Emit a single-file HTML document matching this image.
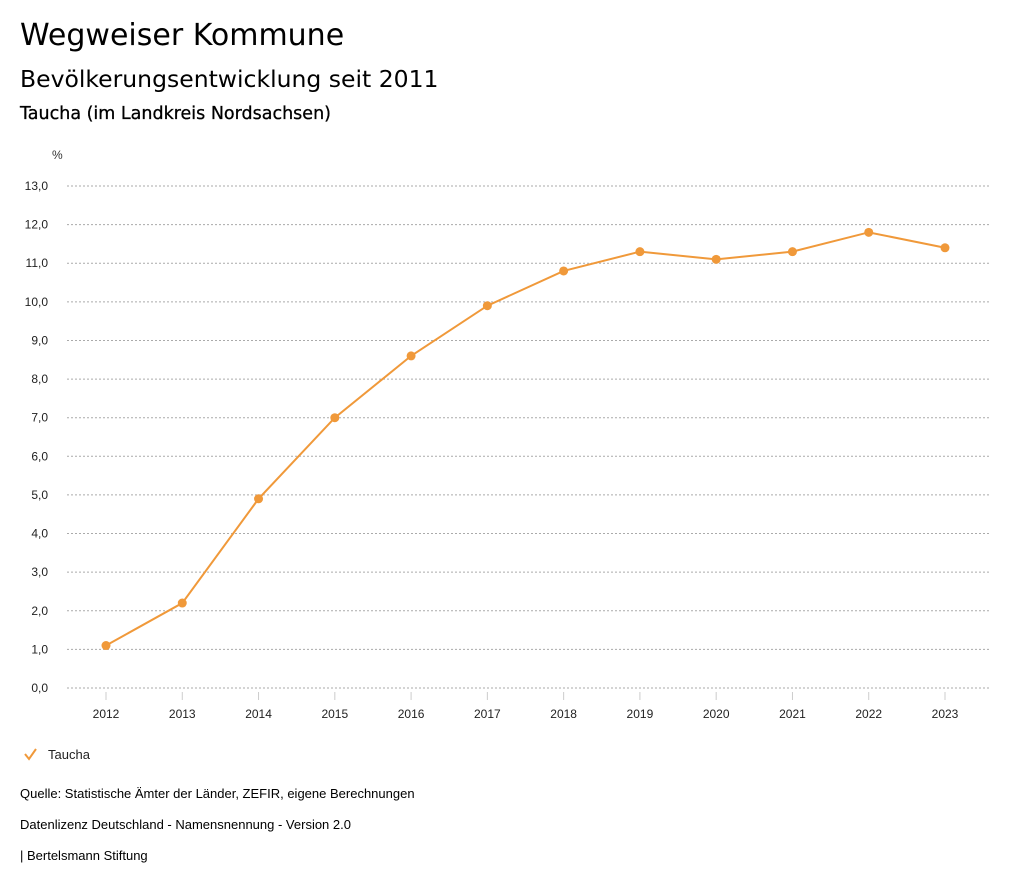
<!DOCTYPE html>
<html><head><meta charset="utf-8"><style>
body{margin:0;width:1024px;height:888px;background:#fff;font-family:"Liberation Sans",sans-serif;color:#000;position:relative;overflow:hidden}
.t{position:absolute;white-space:nowrap}
.d{font-family:"DejaVu Sans",sans-serif}
</style></head><body>
<div class="t d" style="left:20px;top:18px;font-size:30px">Wegweiser Kommune</div>
<div class="t d" style="left:20px;top:65px;font-size:23.5px">Bevölkerungsentwicklung seit 2011</div>
<div class="t d" style="left:20px;top:104px;font-size:17.5px;font-weight:500;-webkit-text-stroke:0.3px #000">Taucha (im Landkreis Nordsachsen)</div>
<svg id="chart" width="1024" height="888" style="position:absolute;left:0;top:0"></svg>
<div class="t" style="left:20px;top:786px;font-size:13px">Quelle: Statistische Ämter der Länder, ZEFIR, eigene Berechnungen</div>
<div class="t" style="left:20px;top:817px;font-size:13px">Datenlizenz Deutschland - Namensnennung - Version 2.0</div>
<div class="t" style="left:20px;top:848px;font-size:13px">| Bertelsmann Stiftung</div>
<script>
const years=["2012","2013","2014","2015","2016","2017","2018","2019","2020","2021","2022","2023"];
const values=[1.1,2.2,4.9,7.0,8.6,9.9,10.8,11.3,11.1,11.3,11.8,11.4];
const yTicks=[0,1,2,3,4,5,6,7,8,9,10,11,12,13];
const NS="http://www.w3.org/2000/svg";
const svg=document.getElementById('chart');
const x0=106,xStep=(945-106)/11,yBase=688,yUnit=(688-186)/13;
const xs=i=>x0+i*xStep, ys=v=>yBase-v*yUnit;
function mk(tag,attrs,parent){const e=document.createElementNS(NS,tag);for(const k in attrs)e.setAttribute(k,attrs[k]);(parent||svg).appendChild(e);return e;}
const pct=mk('text',{x:52,y:159,'font-size':12,fill:'#333','font-family':'Liberation Sans'});pct.textContent='%';


yTicks.forEach(v=>{
 const l=mk('line',{x1:67,x2:990,y1:ys(v),y2:ys(v),stroke:'#aaa','stroke-dasharray':'2,2','stroke-width':1});
 
 
 const t=mk('text',{x:48,y:ys(v)+4,'font-size':12,'text-anchor':'end',fill:'#222','font-family':'Liberation Sans'});
 t.textContent=v.toFixed(1).replace('.',',');
 
 
});
years.forEach((y,i)=>{
 const l=mk('line',{x1:xs(i),x2:xs(i),y1:692,y2:700,stroke:'#ccc'});
 
 
 const t=mk('text',{x:xs(i),y:718,'font-size':12,'text-anchor':'middle',fill:'#222','font-family':'Liberation Sans'});
 t.textContent=y;
 
 
});
const p=mk('polyline',{points:values.map((v,i)=>xs(i)+','+ys(v)).join(' '),fill:'none',stroke:'#f0993a','stroke-width':2});


values.forEach((v,i)=>{
 const c=mk('circle',{cx:xs(i),cy:ys(v),r:4.5,fill:'#f0993a'});
 
 
});
const g=mk('g',{});


mk('polyline',{points:'25,754 29,759 36,749',fill:'none',stroke:'#f0993a','stroke-width':2},g);
const lt=mk('text',{x:48,y:759,'font-size':13,fill:'#222','font-family':'Liberation Sans'},g);lt.textContent='Taucha';
</script>
</body></html>
